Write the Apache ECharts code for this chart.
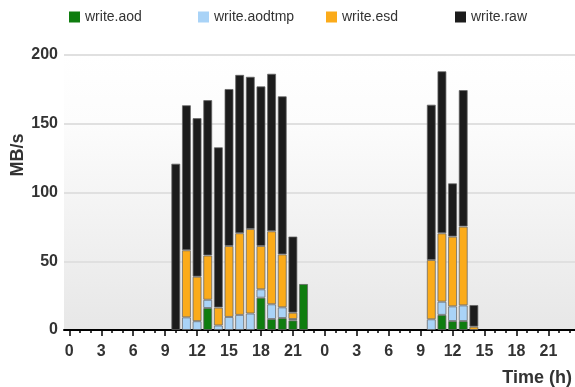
<!DOCTYPE html>
<html>
<head>
<meta charset="utf-8">
<script src="https://cdn.jsdelivr.net/npm/echarts@6/dist/echarts.min.js"></script>
<style>
  html, body { margin: 0; padding: 0; background: #ffffff; }
  #chart { width: 575px; height: 387px; }
</style>
</head>
<body>
<div id="chart"></div>
<script>
// Hour-of-day categories covering two consecutive days
const hours = [
  '0','1','2','3','4','5','6','7','8','9','10','11','12','13','14','15','16','17','18','19','20','21','22','23',
  '0','1','2','3','4','5','6','7','8','9','10','11','12','13','14','15','16','17','18','19','20','21','22','23'
];

const seriesNames = ['write.aod', 'write.aodtmp', 'write.esd', 'write.raw'];

// Write rates in MB/s, one entry per hour (null = no traffic)
const writeAod = [
  null,null,null,null,null,null,null,null,null,null,null,null,null,16,null,null,null,null,23.5,8,8.7,7,33.5,null,
  null,null,null,null,null,null,null,null,null,null,null,11,6.5,6.5,null,null,null,null,null,null,null,null,null,null
];
const writeAodtmp = [
  null,null,null,null,null,null,null,null,null,null,null,9.2,6.4,6,3.3,9.5,11,12,6.1,10.7,7.8,1,null,null,
  null,null,null,null,null,null,null,null,null,null,7.8,9.6,10.7,11.4,null,null,null,null,null,null,null,null,null,null
];
const writeEsd = [
  null,null,null,null,null,null,null,null,null,null,null,48.8,32.4,32.2,13,51.6,59.4,61.5,31.5,53.1,38.5,4.6,null,null,
  null,null,null,null,null,null,null,null,null,null,43.1,49.7,50.7,57.3,2.4,null,null,null,null,null,null,null,null,null
];
const writeRaw = [
  null,null,null,null,null,null,null,null,null,null,121,105.5,115.3,113,116.6,114.2,115.2,110.7,116.1,114.6,115,55.4,null,null,
  null,null,null,null,null,null,null,null,null,null,113,117.9,38.8,99.3,15.8,null,null,null,null,null,null,null,null,null
];

const yTicks = { min: 0, max: 200, step: 50 };

const colors = ['#0f7d0f', '#a9d3f7', '#fbab1a', '#1c1c1c'];
const values = [writeAod, writeAodtmp, writeEsd, writeRaw];
const legendLeft = [69, 198, 326, 455];

const FONT = '"Liberation Sans", Arial, Helvetica, sans-serif';

const chart = echarts.init(document.getElementById('chart'), null, { renderer: 'canvas' });

chart.setOption({
  animation: false,
  backgroundColor: '#ffffff',
  textStyle: { fontFamily: FONT },
  legend: seriesNames.map((name, i) => ({
    data: [name],
    left: legendLeft[i],
    top: 10,
    padding: 0,
    itemWidth: 11,
    itemHeight: 11,
    icon: 'rect',
    selectedMode: false,
    itemStyle: { borderWidth: 0 },
    textStyle: { fontSize: 14, color: '#333333', fontFamily: FONT }
  })),
  grid: {
    left: 64,
    top: 55,
    bottom: 57,
    width: 525,
    show: true,
    borderWidth: 0,
    backgroundColor: new echarts.graphic.LinearGradient(0, 0, 0, 1, [
      { offset: 0, color: '#ffffff' },
      { offset: 0.25, color: '#fcfcfc' },
      { offset: 1, color: '#e7e7e7' }
    ])
  },
  xAxis: [
    {
      type: 'category',
      data: hours,
      position: 'bottom',
      axisLine: { show: true, lineStyle: { color: '#000000', width: 2 } },
      axisTick: { show: true, alignWithLabel: true, interval: 0, length: 3, lineStyle: { color: '#000000', width: 1.5 } },
      axisLabel: { show: false },
      splitLine: { show: false }
    },
    {
      type: 'category',
      data: hours,
      position: 'bottom',
      axisLine: { show: false },
      axisTick: { show: true, alignWithLabel: true, interval: 2, length: 6, lineStyle: { color: '#000000', width: 1.5 } },
      axisLabel: { show: true, interval: 2, margin: 14, fontSize: 16, fontWeight: 'bold', color: '#333333', fontFamily: FONT },
      splitLine: { show: false }
    }
  ],
  yAxis: {
    type: 'value',
    min: yTicks.min,
    max: yTicks.max,
    interval: yTicks.step,
    axisLine: { show: false },
    axisTick: { show: false },
    axisLabel: { margin: 6, fontSize: 16, fontWeight: 'bold', color: '#333333', fontFamily: FONT },
    splitLine: { show: true, lineStyle: { color: '#e0e0e0', width: 2 } }
  },
  graphic: [
    {
      type: 'text',
      x: 18,
      y: 155,
      rotation: Math.PI / 2,
      style: { text: 'MB/s', align: 'center', verticalAlign: 'middle', font: 'bold 18px ' + FONT, fill: '#333333' }
    },
    {
      type: 'text',
      x: 572,
      y: 378,
      style: { text: 'Time (h)', align: 'right', verticalAlign: 'middle', font: 'bold 18px ' + FONT, fill: '#333333' }
    }
  ],
  series: seriesNames.map((name, i) => ({
    name: name,
    type: 'bar',
    stack: 'writes',
    xAxisIndex: 0,
    barWidth: 9,
    data: values[i],
    itemStyle: {
      color: colors[i],
      borderColor: 'rgba(100,100,100,0.75)',
      borderWidth: 1
    }
  }))
});
</script>
</body>
</html>
